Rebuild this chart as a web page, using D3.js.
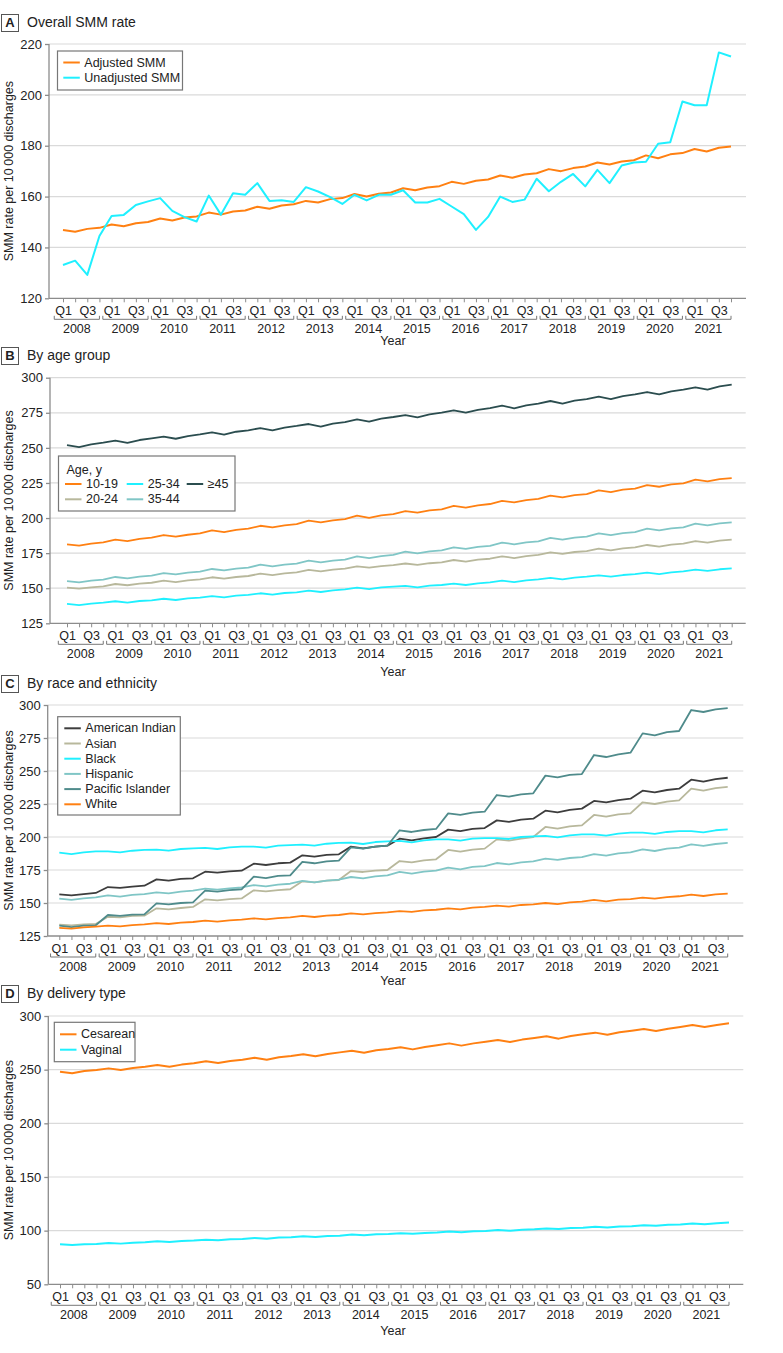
<!DOCTYPE html>
<html><head><meta charset="utf-8">
<script src="https://cdnjs.cloudflare.com/ajax/libs/d3/7.8.5/d3.min.js"></script>
<style>
body{margin:0;background:#fff;}
svg text{font-family:"Liberation Sans",Arial,sans-serif;fill:#222;}
</style></head><body>
<svg id="c" width="783" height="1353"></svg>
<script>
// ---------- DATA ----------
const years = ["2008","2009","2010","2011","2012","2013","2014","2015","2016","2017","2018","2019","2020","2021"];
const quarterLabels = ["Q1","","Q3",""];

// Panel A
const adjustedSMM = [146.9,146.2,147.3,147.7, 149.0,148.3,149.5,150.0, 151.4,150.6,151.8,152.2, 153.7,152.9,154.1,154.5,
  156.0,155.2,156.5,157.0, 158.3,157.7,159.0,159.4, 161.0,160.0,161.1,161.6, 163.3,162.5,163.6,164.1,
  165.8,165.0,166.2,166.7, 168.3,167.4,168.7,169.2, 170.8,170.0,171.2,171.8, 173.4,172.6,173.8,174.3,
  176.2,175.1,176.6,177.1, 178.7,177.7,179.2,179.7];
const unadjustedSMM = [133.1,134.8,129.2,144.5, 152.4,152.8,156.7,158.1, 159.4,154.4,151.9,150.2, 160.4,152.9,161.3,160.7,
  165.3,158.3,158.6,157.9, 163.7,162.0,159.8,157.1, 160.7,158.5,160.7,160.7, 162.5,157.7,157.7,159.1,
  156.1,153.1,146.9,152.0, 160.0,157.9,158.8,167.0, 162.1,165.8,168.9,164.0, 170.5,165.3,172.2,173.4,
  173.7,180.8,181.4,197.4, 195.9,195.9,216.7,215.1];
const ticksA = [120,140,160,180,200,220];

// Panel B
const age1019 = [181.3,180.3,181.7,182.7, 184.6,183.6,185.1,186.0, 187.9,186.7,188.1,189.1, 191.2,190.0,191.5,192.4,
  194.5,193.4,194.8,195.7, 198.1,196.9,198.3,199.3, 201.7,200.2,201.9,202.8, 205.0,203.8,205.5,206.2,
  208.6,207.4,209.0,210.0, 212.3,211.2,212.8,213.6, 215.9,214.7,216.4,217.1, 219.7,218.5,220.2,220.9,
  223.5,222.3,224.0,224.7, 227.3,226.1,227.8,228.5];
const age2024 = [150.4,149.7,150.6,151.3, 153.0,152.1,153.2,153.9, 155.4,154.4,155.6,156.3, 157.8,156.8,158.0,158.7,
  160.4,159.4,160.6,161.3, 163.0,162.0,163.2,163.9, 165.6,164.6,165.8,166.5, 167.6,166.6,167.8,168.4,
  170.1,168.9,170.3,171.0, 172.7,171.5,172.9,173.7, 175.6,174.4,175.8,176.5, 178.2,177.0,178.4,179.1,
  180.8,179.6,181.0,181.7, 183.6,182.5,183.9,184.6];
const age2534 = [138.8,137.9,139.0,139.7, 140.7,139.7,140.9,141.4, 142.5,141.6,142.8,143.3, 144.4,143.5,144.7,145.2,
  146.4,145.4,146.6,147.1, 148.3,147.3,148.5,149.2, 150.4,149.4,150.6,151.1, 151.6,150.6,151.8,152.3,
  153.2,152.3,153.5,154.2, 155.4,154.4,155.6,156.3, 157.3,156.3,157.5,158.2, 159.2,158.2,159.4,160.1,
  161.1,160.1,161.3,162.0, 163.2,162.3,163.5,164.2];
const age3544 = [155.1,154.2,155.4,156.1, 158.0,157.0,158.2,158.9, 160.8,159.9,161.1,161.8, 163.7,162.7,163.9,164.6,
  166.8,165.6,166.8,167.5, 169.6,168.4,169.6,170.3, 172.7,171.5,172.9,173.7, 176.0,174.9,176.3,177.0,
  179.1,178.0,179.4,180.1, 182.5,181.3,182.7,183.4, 185.8,184.6,186.0,186.7, 189.1,187.9,189.3,190.0,
  192.4,191.2,192.7,193.4, 196.0,194.8,196.2,196.9];
const age45plus = [252.0,250.6,252.5,253.7, 255.1,253.5,255.6,256.8, 258.0,256.5,258.4,259.6, 261.1,259.4,261.5,262.5,
  264.1,262.5,264.4,265.6, 267.0,265.1,267.2,268.4, 270.3,268.7,270.8,272.0, 273.4,271.7,273.9,275.1,
  276.7,275.1,277.0,278.4, 280.1,278.2,280.3,281.5, 283.4,281.5,283.6,284.8, 286.5,284.8,286.9,288.1,
  289.8,288.1,290.3,291.5, 293.1,291.5,293.8,295.0];
const ticksB = [125,150,175,200,225,250,275,300];

// Panel C
const americanIndian = [156.6,155.8,156.8,157.6, 162.1,161.4,162.4,163.1, 167.9,166.9,168.2,168.7, 173.7,173.0,174.0,174.5,
  179.8,178.8,180.1,180.6, 186.1,185.1,186.4,186.9, 192.7,191.4,192.7,193.4, 198.7,197.5,199.0,200.0,
  205.6,204.5,206.1,206.8, 212.6,211.4,213.1,213.9, 219.9,218.7,220.5,221.5, 227.3,226.3,228.0,229.0,
  235.1,233.8,235.6,236.6, 243.4,241.9,243.9,244.9];
const asian = [133.6,133.1,133.8,134.1, 139.6,139.1,140.2,140.4, 146.0,145.2,146.2,147.0, 152.8,152.0,153.0,153.5,
  159.6,158.8,159.8,160.4, 166.4,165.7,166.9,167.4, 174.2,173.5,174.5,175.0, 181.8,180.8,182.3,183.1,
  190.2,188.9,190.4,191.2, 198.2,197.2,198.7,200.0, 207.6,206.3,208.1,208.8, 216.7,215.4,217.2,217.9,
  226.3,225.0,226.8,227.8, 236.6,235.1,237.1,237.9];
const black = [188.1,187.1,188.4,189.1, 189.1,188.4,189.6,190.2, 190.4,189.6,190.9,191.4, 191.7,190.9,192.2,192.7,
  192.7,191.9,193.4,193.9, 194.2,193.4,194.9,195.5, 195.7,194.7,196.2,196.7, 197.0,196.0,197.5,198.2,
  198.2,197.2,198.7,199.2, 199.2,198.5,200.0,200.5, 200.8,199.7,201.3,202.0, 202.0,201.0,202.5,203.3,
  203.3,202.3,203.8,204.5, 204.5,203.5,205.1,205.8];
const hispanic = [153.3,152.3,153.5,154.3, 155.8,154.8,156.1,156.8, 158.1,157.3,158.6,159.3, 160.9,160.1,161.1,161.9,
  163.6,162.6,163.9,164.6, 166.7,165.7,166.9,167.7, 169.7,168.7,170.2,171.0, 173.5,172.2,173.7,174.5,
  176.8,175.5,177.3,178.0, 180.3,179.3,180.8,181.6, 183.6,182.6,184.1,184.8, 187.1,185.9,187.6,188.4,
  190.7,189.4,191.2,191.9, 194.4,193.2,194.7,195.5];
const pacificIslander = [132.8,131.8,132.8,133.1, 140.9,140.2,141.2,141.4, 149.7,149.0,150.0,150.5, 159.3,158.6,159.8,160.4,
  170.0,168.9,170.5,171.0, 181.1,180.1,181.6,182.1, 192.2,191.2,192.7,193.4, 205.1,203.8,205.3,206.1,
  217.9,216.7,218.4,219.2, 231.8,230.6,232.3,233.1, 246.5,245.2,247.0,247.7, 262.1,260.6,262.6,263.9,
  278.5,277.0,279.5,280.3, 296.2,294.7,296.7,297.7];
const white = [131.1,130.6,131.6,132.1, 132.8,132.3,133.3,133.8, 134.8,134.1,135.1,135.6, 136.6,135.9,136.9,137.4,
  138.4,137.6,138.6,139.1, 140.2,139.4,140.4,140.9, 142.2,141.4,142.4,142.9, 143.9,143.2,144.4,144.9,
  145.9,145.2,146.5,147.0, 148.0,147.2,148.5,149.0, 150.0,149.2,150.5,151.0, 152.3,151.3,152.5,153.0,
  154.0,153.3,154.5,155.1, 156.3,155.3,156.6,157.1];
const ticksC = [125,150,175,200,225,250,275,300];

// Panel D
const cesarean = [248.1,246.6,248.8,249.7, 251.2,249.7,251.6,252.8, 254.3,252.8,254.7,255.9, 257.8,256.2,258.1,259.3,
  261.2,259.3,261.5,262.7, 264.3,262.4,264.6,266.1, 267.7,265.8,268.0,269.3, 270.9,268.9,271.1,272.7,
  274.5,272.4,274.5,276.1, 277.6,275.8,278.0,279.5, 281.1,278.9,281.4,282.9, 284.5,282.6,284.8,286.3,
  287.9,286.0,288.2,289.8, 291.6,289.8,291.6,293.2];
const vaginal = [87.3,86.6,87.3,87.6, 88.5,87.9,88.8,89.1, 90.1,89.4,90.4,90.7, 91.6,91.0,91.9,92.2,
  93.2,92.5,93.5,93.8, 94.7,94.1,95.0,95.3, 96.3,95.7,96.6,96.9, 97.6,97.0,97.9,98.2,
  99.1,98.5,99.4,99.7, 100.6,100.0,100.9,101.2, 102.1,101.5,102.4,102.7, 103.6,103.0,103.9,104.2,
  105.1,104.5,105.4,105.7, 106.6,106.0,106.9,107.5];
const ticksD = [50,100,150,200,250,300];

// ---------- STYLE ----------
const ORANGE = "#ff8012", CYAN = "#1ff0ff";
const C_DARK = "#2b4d4f", C_TAN = "#b8b89c", C_LTEAL = "#80c6c6";
const C_AI = "#3d3d3d", C_PI = "#4f8b8b";
const GRID = "#dadada", AXIS = "#8c8c8c";

const svg = d3.select("#c");
const N = 56;

function panel(cfg) {
  const g = svg.append("g");
  const x = d3.scaleLinear().domain([0, N - 1]).range([cfg.x0, cfg.x1]);
  const y = d3.scaleLinear().domain(cfg.domain).range([cfg.bottom, cfg.top]);

  // header
  g.append("rect").attr("x", 1.5).attr("y", cfg.titleY - 12.5).attr("width", 17).attr("height", 17)
    .attr("fill", "#fff").attr("stroke", "#555").attr("stroke-width", 1);
  g.append("text").attr("x", 10).attr("y", cfg.titleY).attr("text-anchor", "middle")
    .attr("font-size", 13).attr("font-weight", "bold").text(cfg.letter);
  g.append("text").attr("x", 27).attr("y", cfg.titleY).attr("font-size", 14).text(cfg.title);

  // grid
  g.append("g").selectAll("line").data(cfg.ticks.filter(t => t !== cfg.domain[0])).join("line")
    .attr("x1", cfg.axisX).attr("x2", cfg.right).attr("y1", d => y(d)).attr("y2", d => y(d))
    .attr("stroke", GRID).attr("stroke-width", 1.2);

  // y axis
  const ya = g.append("g").attr("transform", `translate(${cfg.axisX},0)`)
    .call(d3.axisLeft(y).tickValues(cfg.ticks).tickSize(4).tickPadding(3).tickFormat(d3.format("d")));
  ya.select(".domain").attr("stroke", AXIS).attr("stroke-width", 1.3).attr("d", `M0,${cfg.top}V${cfg.bottom}`);
  ya.selectAll(".tick line").attr("stroke", AXIS).attr("stroke-width", 1.3);
  ya.selectAll(".tick text").attr("font-size", 13).attr("fill", "#222").style("font-family", "'Liberation Sans',Arial,sans-serif");

  // y title
  g.append("text").attr("transform", `translate(${cfg.yTitleX},${(cfg.top + cfg.bottom) / 2}) rotate(-90)`)
    .attr("text-anchor", "middle").attr("dominant-baseline", "middle").attr("font-size", 12.5)
    .text("SMM rate per 10\u2009000 discharges");

  // x axis
  const xa = g.append("g").attr("transform", `translate(0,${cfg.bottom})`)
    .call(d3.axisBottom(x).tickValues(d3.range(N)).tickSize(4).tickPadding(4)
      .tickFormat(i => quarterLabels[i % 4]));
  xa.select(".domain").attr("stroke", AXIS).attr("stroke-width", 1.3).attr("d", `M${cfg.axisX},0H${cfg.right}`);
  xa.selectAll(".tick line").attr("stroke", AXIS).attr("stroke-width", 1);
  xa.selectAll(".tick text").attr("font-size", 12.5).attr("fill", "#222").style("font-family", "'Liberation Sans',Arial,sans-serif");

  // year brackets
  const step = x(1) - x(0);
  const by = cfg.bottom + 21;
  const yg = g.append("g");
  years.forEach((yr, k) => {
    const xs = x(4 * k) - 0.72 * step, xe = x(4 * k + 3);
    yg.append("path").attr("d", `M${xs},${by - 3.5}V${by}H${xe}V${by - 3.5}`)
      .attr("fill", "none").attr("stroke", "#777").attr("stroke-width", 1);
    yg.append("text").attr("x", (xs + xe) / 2).attr("y", by + 14).attr("text-anchor", "middle")
      .attr("font-size", 12.5).text(yr);
  });
  g.append("text").attr("x", 393).attr("y", cfg.yearTitleY).attr("text-anchor", "middle")
    .attr("font-size", 12.5).text("Year");

  // lines
  const line = d3.line().x((d, i) => x(i)).y(d => y(d));
  cfg.series.forEach(s => {
    g.append("path").datum(s.values).attr("d", line).attr("fill", "none")
      .attr("stroke", s.color).attr("stroke-width", cfg.lw).attr("stroke-linejoin", "round");
  });

  // legend
  const L = cfg.legend;
  const lg = g.append("g");
  lg.append("rect").attr("x", L.x).attr("y", L.y).attr("width", L.w).attr("height", L.h)
    .attr("fill", "#fff").attr("stroke", "#777").attr("stroke-width", 1.2);
  if (L.title) lg.append("text").attr("x", L.x + 8).attr("y", L.y + 18).attr("font-size", 12.5).text(L.title);
  L.items.forEach(it => {
    const s = cfg.series[it.s];
    lg.append("line").attr("x1", it.x).attr("x2", it.x + 16.5).attr("y1", it.y).attr("y2", it.y)
      .attr("stroke", s.color).attr("stroke-width", 2);
    lg.append("text").attr("x", it.x + 21).attr("y", it.y).attr("dominant-baseline", "central")
      .attr("font-size", 12.5).text(s.name);
  });
}

panel({
  letter: "A", title: "Overall SMM rate", titleY: 27, lw: 2,
  axisX: 49, x0: 63, x1: 731, right: 746, top: 44, bottom: 298.3, domain: [120, 220], ticks: ticksA,
  yTitleX: 10, yearTitleY: 345,
  series: [{name: "Adjusted SMM", color: ORANGE, values: adjustedSMM},
           {name: "Unadjusted SMM", color: CYAN, values: unadjustedSMM}],
  legend: {x: 57.5, y: 51, w: 125, h: 39, items: [{s: 0, x: 63.3, y: 62.5}, {s: 1, x: 63.3, y: 77.7}]}
});

panel({
  letter: "B", title: "By age group", titleY: 360, lw: 1.8,
  axisX: 50, x0: 67, x1: 731.7, right: 745.7, top: 377.7, bottom: 623.3, domain: [125, 300], ticks: ticksB,
  yTitleX: 10, yearTitleY: 676,
  series: [{name: "10-19", color: ORANGE, values: age1019},
           {name: "20-24", color: C_TAN, values: age2024},
           {name: "25-34", color: CYAN, values: age2534},
           {name: "35-44", color: C_LTEAL, values: age3544},
           {name: "\u226545", color: C_DARK, values: age45plus}],
  legend: {x: 58.5, y: 456, w: 176.5, h: 55, title: "Age, y",
    items: [{s: 0, x: 65, y: 484}, {s: 1, x: 65, y: 499.3}, {s: 2, x: 126.7, y: 484}, {s: 3, x: 126.7, y: 499.3}, {s: 4, x: 186.7, y: 484}]}
});

panel({
  letter: "C", title: "By race and ethnicity", titleY: 688, lw: 1.8,
  axisX: 47.7, x0: 59.3, x1: 727.7, right: 743.3, top: 705, bottom: 936, domain: [125, 300], ticks: ticksC,
  yTitleX: 10, yearTitleY: 985,
  series: [{name: "American Indian", color: C_AI, values: americanIndian},
           {name: "Asian", color: C_TAN, values: asian},
           {name: "Black", color: CYAN, values: black},
           {name: "Hispanic", color: C_LTEAL, values: hispanic},
           {name: "Pacific Islander", color: C_PI, values: pacificIslander},
           {name: "White", color: ORANGE, values: white}],
  legend: {x: 57.7, y: 716.7, w: 122.6, h: 98.3,
    items: [0,1,2,3,4,5].map(k => ({s: k, x: 64.3, y: 728.3 + k * 15.2}))}
});

panel({
  letter: "D", title: "By delivery type", titleY: 998, lw: 2,
  axisX: 48.3, x0: 60, x1: 729, right: 743.3, top: 1016, bottom: 1284.3, domain: [50, 300], ticks: ticksD,
  yTitleX: 10, yearTitleY: 1335,
  series: [{name: "Cesarean", color: ORANGE, values: cesarean},
           {name: "Vaginal", color: CYAN, values: vaginal}],
  legend: {x: 54.3, y: 1022.3, w: 80.7, h: 39.4, items: [{s: 0, x: 60, y: 1034.3}, {s: 1, x: 60, y: 1049.7}]}
});
</script></body></html>
